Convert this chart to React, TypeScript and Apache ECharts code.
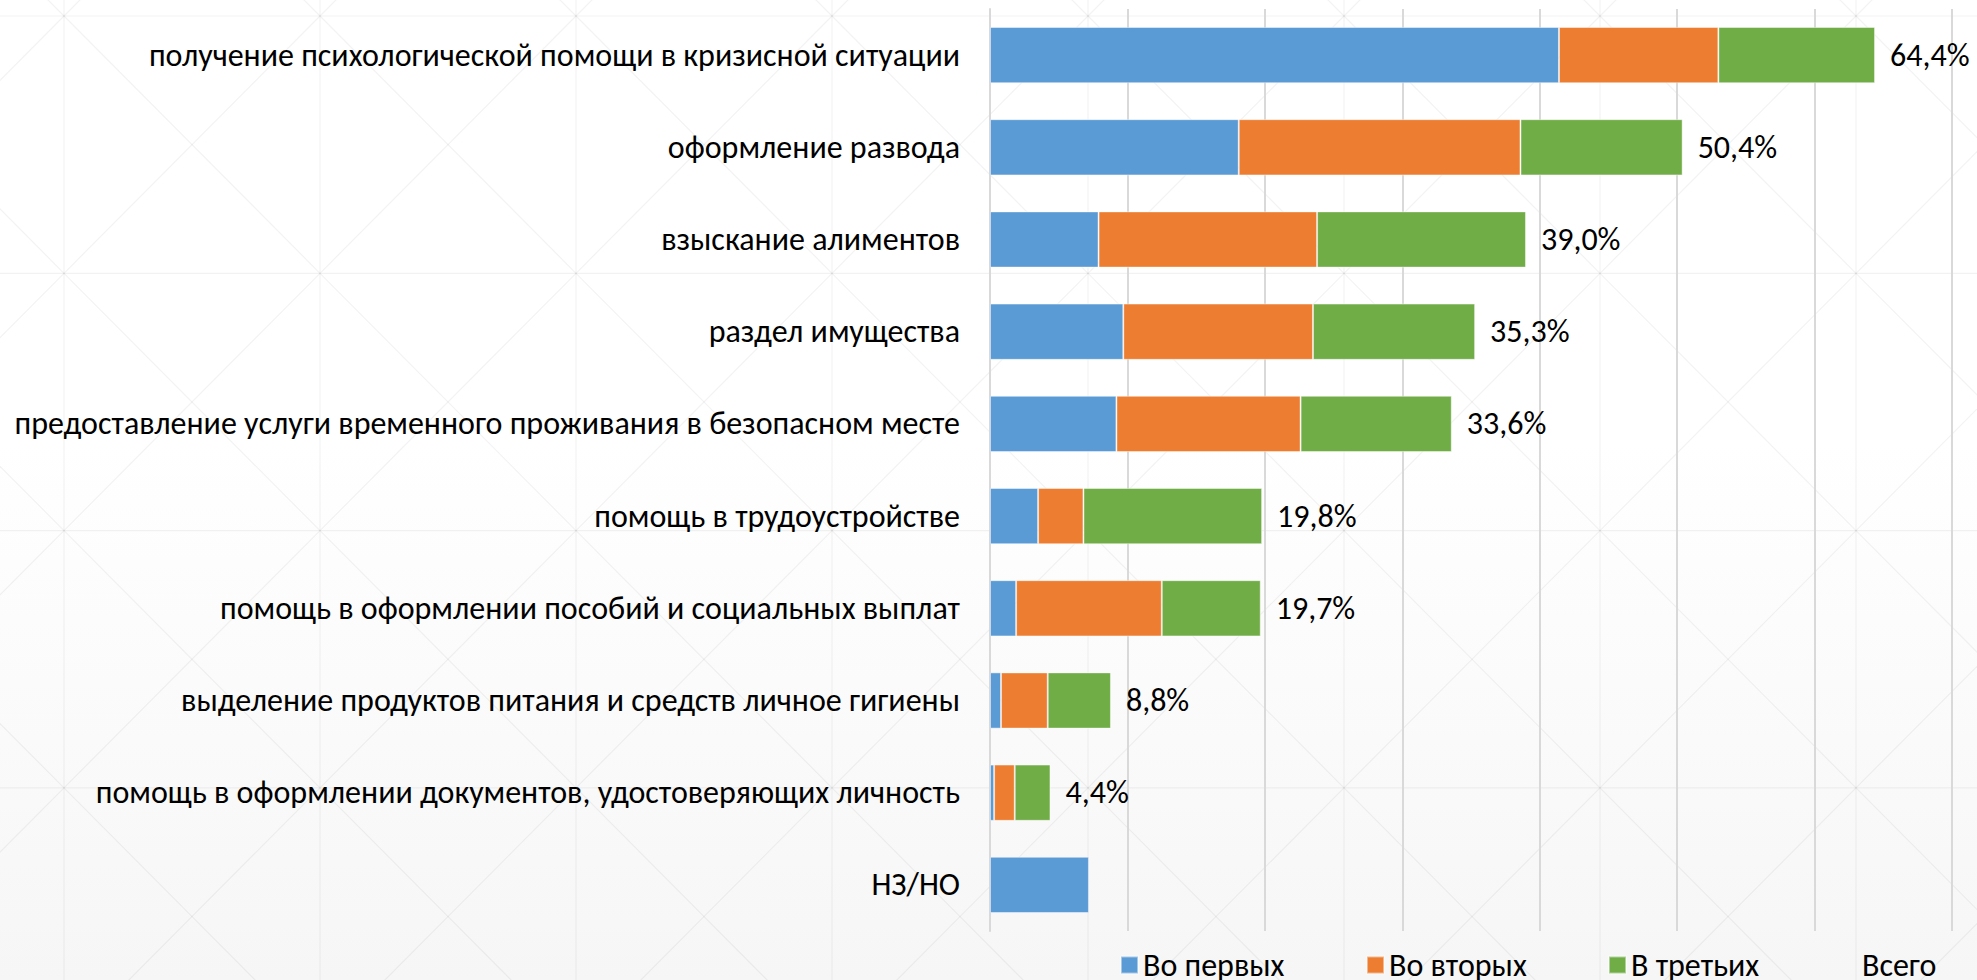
import React, { useEffect, useRef } from "react";
import * as echarts from "echarts";

const categories = [
  "получение психологической помощи в кризисной ситуации",
  "оформление развода",
  "взыскание алиментов",
  "раздел имущества",
  "предоставление услуги временного проживания в безопасном месте",
  "помощь в трудоустройстве",
  "помощь в оформлении пособий и социальных выплат",
  "выделение продуктов питания и средств личное гигиены",
  "помощь в оформлении документов, удостоверяющих личность",
  "НЗ/НО",
];

const firstValues = [41.4, 18.1, 7.9, 9.7, 9.2, 3.5, 1.9, 0.8, 0.3, 7.2];
const secondValues = [11.6, 20.5, 15.9, 13.8, 13.4, 3.3, 10.6, 3.4, 1.5, null];
const thirdValues = [11.4, 11.8, 15.2, 11.8, 11.0, 13.0, 7.2, 4.6, 2.6, null];
const totalValues = [64.4, 50.4, 39.0, 35.3, 33.6, 19.8, 19.7, 8.8, 4.4, null];

const seriesNames = ["Во первых", "Во вторых", "В третьих", "Всего"];
const seriesColors = ["#5B9BD5", "#ED7D31", "#70AD47", "rgba(0,0,0,0)"];

const axisMin = 0;
const axisMax = 70;
const axisInterval = 10;

const FONT = "Carlito, Calibri, Roboto, 'Noto Sans', sans-serif";

function buildPattern() {
  const els: any[] = [];
  const stroke = { stroke: "rgba(0,0,0,0.05)", lineWidth: 1.2 };
  const xs: number[] = [];
  const ys: number[] = [];
  for (let i = -1; i <= 9; i++) xs.push(64 + 256 * i);
  for (let j = -1; j <= 4; j++) ys.push(16 + 257.3 * j);
  xs.forEach((x) =>
    els.push({ type: "line", silent: true, z: -10, shape: { x1: x, y1: 0, x2: x, y2: 980 }, style: stroke })
  );
  ys.forEach((y) =>
    els.push({ type: "line", silent: true, z: -10, shape: { x1: 0, y1: y, x2: 1977, y2: y }, style: stroke })
  );
  for (let i = 0; i < xs.length - 1; i++) {
    for (let j = 0; j < ys.length - 1; j++) {
      els.push({ type: "line", silent: true, z: -10, shape: { x1: xs[i], y1: ys[j], x2: xs[i + 1], y2: ys[j + 1] }, style: stroke });
      els.push({ type: "line", silent: true, z: -10, shape: { x1: xs[i + 1], y1: ys[j], x2: xs[i], y2: ys[j + 1] }, style: stroke });
    }
  }
  return els;
}

const fmt = (v: number) => v.toFixed(1).replace(".", ",") + "%";

export default function App() {
  const ref = useRef<HTMLDivElement>(null);
  useEffect(() => {
    if (!ref.current) return;
    const chart = echarts.init(ref.current, undefined, { renderer: "svg" });
    const stacked = [firstValues, secondValues, thirdValues].map((data, i) => ({
      name: seriesNames[i],
      type: "bar",
      stack: "total",
      data,
      barWidth: "61%",
      barGap: "-100%",
      itemStyle: { color: seriesColors[i], borderColor: "rgba(255,255,255,0.45)", borderWidth: 1 },
      label: { show: false },
      z: 3,
    }));
    const legendLefts = [1115, 1361, 1603, 1835];
    chart.setOption({
      animation: false,
      graphic: buildPattern(),
      grid: { left: 990, right: 25, top: 9, bottom: 49, containLabel: false },
      xAxis: {
        type: "value",
        min: axisMin,
        max: axisMax,
        interval: axisInterval,
        axisLabel: { show: false },
        axisLine: { show: false },
        axisTick: { show: false },
        splitLine: { show: true, lineStyle: { color: "#d9d9d9", width: 2 } },
      },
      yAxis: {
        type: "category",
        inverse: true,
        data: categories,
        axisLine: { show: true, lineStyle: { color: "#d9d9d9", width: 2 } },
        axisTick: { show: false },
        axisLabel: { fontSize: 32, color: "#000000", margin: 30, fontFamily: FONT },
      },
      legend: seriesNames.map((name, i) => ({
        data: [name],
        left: legendLefts[i],
        top: 944,
        itemWidth: 17,
        itemHeight: 17,
        itemGap: 10,
        selectedMode: false,
        icon: "rect",
        textStyle: { fontSize: 32, color: "#000000", fontFamily: FONT },
      })),
      series: [
        ...stacked,
        {
          name: seriesNames[3],
          type: "bar",
          data: totalValues,
          barWidth: "61%",
          barGap: "-100%",
          itemStyle: { color: seriesColors[3] },
          z: 1,
          label: {
            show: true,
            position: "right",
            distance: 15,
            fontSize: 32,
            color: "#000000",
            fontFamily: FONT,
            formatter: (p: any) => (p.value == null ? "" : fmt(p.value)),
          },
        },
      ],
    });
    return () => chart.dispose();
  }, []);
  return (
    <div
      ref={ref}
      style={{
        position: "fixed",
        left: 0,
        top: 0,
        width: 1977,
        height: 980,
        background: "linear-gradient(#ffffff 0%, #ffffff 45%, #f6f6f6 100%)",
      }}
    />
  );
}
